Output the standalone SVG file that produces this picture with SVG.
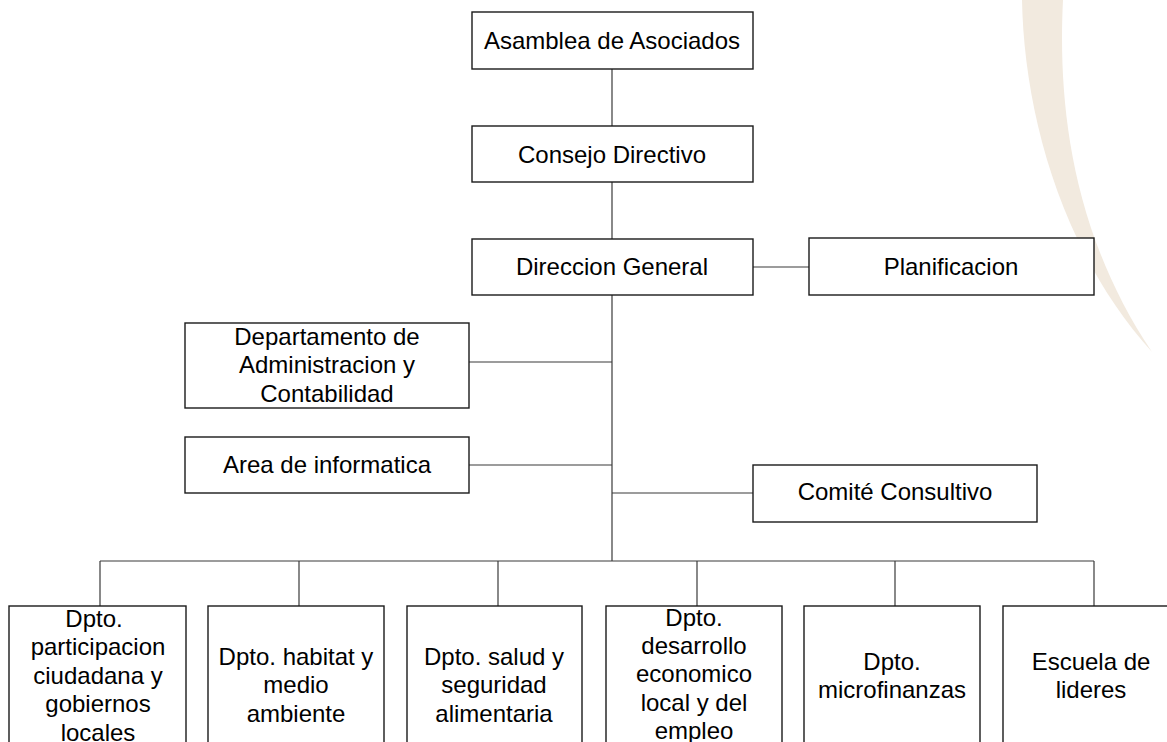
<svg xmlns="http://www.w3.org/2000/svg" width="1167" height="742" viewBox="0 0 1167 742">
<style>
.box{fill:#fff;stroke:#1a1a1a;stroke-width:1.4}
.t{font-family:"Liberation Sans",Arial,sans-serif;font-size:24px;fill:#000;text-anchor:middle}
.c{stroke:#3a3a3a;stroke-width:1.2;fill:none}
</style>
<rect width="1167" height="742" fill="#fff"/>
<path id="swoosh" d="M1022,0 C1024,110 1060,250 1152,352 C1070,230 1058,100 1063,0 Z" fill="#f2eadf"/>
<g id="connectors">
<line class="c" x1="612" y1="69" x2="612" y2="126"/>
<line class="c" x1="612" y1="182" x2="612" y2="239"/>
<line class="c" x1="753" y1="267" x2="809" y2="267"/>
<line class="c" x1="612" y1="295" x2="612" y2="561"/>
<line class="c" x1="469" y1="362" x2="612" y2="362"/>
<line class="c" x1="469" y1="465" x2="612" y2="465"/>
<line class="c" x1="612" y1="493" x2="753" y2="493"/>
<line class="c" x1="100" y1="561" x2="1094" y2="561"/>
<line class="c" x1="100" y1="561" x2="100" y2="606"/>
<line class="c" x1="299" y1="561" x2="299" y2="606"/>
<line class="c" x1="498" y1="561" x2="498" y2="606"/>
<line class="c" x1="697" y1="561" x2="697" y2="606"/>
<line class="c" x1="895" y1="561" x2="895" y2="606"/>
<line class="c" x1="1094" y1="561" x2="1094" y2="606"/>
</g>
<g id="asamblea"><rect class="box" x="472" y="12" width="281" height="57"/><text class="t" x="612" y="49">Asamblea de Asociados</text></g>
<g id="consejo"><rect class="box" x="472" y="126" width="281" height="56"/><text class="t" x="612" y="163">Consejo Directivo</text></g>
<g id="direccion"><rect class="box" x="472" y="239" width="281" height="56"/><text class="t" x="612" y="275">Direccion General</text></g>
<g id="planificacion"><rect class="box" x="809" y="238" width="285" height="57"/><text class="t" x="951" y="275">Planificacion</text></g>
<g id="administracion"><rect class="box" x="185" y="323" width="284" height="85"/><text class="t" x="327" y="345">Departamento de</text><text class="t" x="327" y="373">Administracion y</text><text class="t" x="327" y="402">Contabilidad</text></g>
<g id="informatica"><rect class="box" x="185" y="437" width="284" height="56"/><text class="t" x="327" y="473">Area de informatica</text></g>
<g id="comite"><rect class="box" x="753" y="465" width="284" height="57"/><text class="t" x="895" y="500">Comité Consultivo</text></g>
<g id="participacion"><rect class="box" x="9" y="606" width="177" height="160"/><text class="t" x="94" y="627">Dpto.</text><text class="t" x="98" y="655">participacion</text><text class="t" x="98" y="684">ciudadana y</text><text class="t" x="98" y="712">gobiernos</text><text class="t" x="98" y="741">locales</text></g>
<g id="habitat"><rect class="box" x="208" y="606" width="176" height="160"/><text class="t" x="296" y="665">Dpto. habitat y</text><text class="t" x="296" y="693">medio</text><text class="t" x="296" y="722">ambiente</text></g>
<g id="salud"><rect class="box" x="407" y="606" width="175" height="160"/><text class="t" x="494" y="665">Dpto. salud y</text><text class="t" x="494" y="693">seguridad</text><text class="t" x="494" y="722">alimentaria</text></g>
<g id="desarrollo"><rect class="box" x="606" y="606" width="176" height="160"/><text class="t" x="694" y="626">Dpto.</text><text class="t" x="694" y="654">desarrollo</text><text class="t" x="694" y="682">economico</text><text class="t" x="694" y="711">local y del</text><text class="t" x="694" y="739">empleo</text></g>
<g id="microfinanzas"><rect class="box" x="804" y="606" width="176" height="160"/><text class="t" x="892" y="670">Dpto.</text><text class="t" x="892" y="698">microfinanzas</text></g>
<g id="escuela"><rect class="box" x="1003" y="606" width="177" height="160"/><text class="t" x="1091" y="670">Escuela de</text><text class="t" x="1091" y="698">lideres</text></g>
</svg>
